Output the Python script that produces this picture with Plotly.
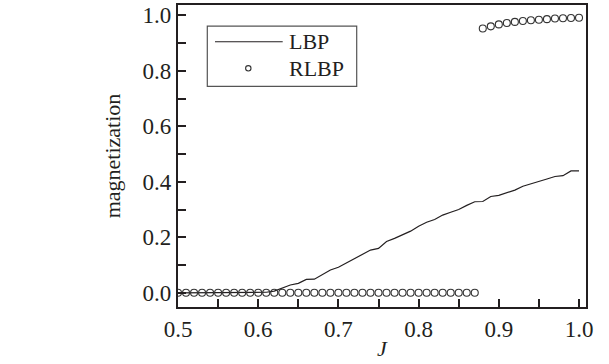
import plotly.graph_objects as go

# LBP curve
J_lbp = [0.50, 0.51, 0.52, 0.53, 0.54, 0.55, 0.56, 0.57, 0.58, 0.59, 0.60,
         0.61, 0.62, 0.63, 0.64, 0.65, 0.66, 0.67, 0.68, 0.69, 0.70,
         0.71, 0.72, 0.73, 0.74, 0.75, 0.76, 0.77, 0.78, 0.79, 0.80,
         0.81, 0.82, 0.83, 0.84, 0.85, 0.86, 0.87, 0.88, 0.89, 0.90,
         0.91, 0.92, 0.93, 0.94, 0.95, 0.96, 0.97, 0.98, 0.99, 1.00]
m_lbp = [0.0, 0.0, 0.0, 0.0, 0.0, 0.0, 0.0, 0.0, 0.0, 0.0, 0.0,
         0.002, 0.006, 0.016, 0.028, 0.034, 0.048, 0.049, 0.067, 0.082, 0.092,
         0.108, 0.122, 0.138, 0.154, 0.160, 0.185, 0.196, 0.210, 0.222, 0.240,
         0.254, 0.264, 0.280, 0.290, 0.300, 0.315, 0.328, 0.329, 0.347, 0.351,
         0.360, 0.370, 0.384, 0.392, 0.400, 0.410, 0.419, 0.422, 0.439, 0.439]

# RLBP points
J_rlbp = [0.50, 0.51, 0.52, 0.53, 0.54, 0.55, 0.56, 0.57, 0.58, 0.59, 0.60,
          0.61, 0.62, 0.63, 0.64, 0.65, 0.66, 0.67, 0.68, 0.69, 0.70,
          0.71, 0.72, 0.73, 0.74, 0.75, 0.76, 0.77, 0.78, 0.79, 0.80,
          0.81, 0.82, 0.83, 0.84, 0.85, 0.86, 0.87,
          0.88, 0.89, 0.90, 0.91, 0.92, 0.93, 0.94, 0.95, 0.96, 0.97,
          0.98, 0.99, 1.00]
m_rlbp = [0.0] * 38 + [0.952, 0.960, 0.967, 0.972, 0.976, 0.979, 0.982,
                       0.984, 0.986, 0.988, 0.989, 0.990, 0.991]

x_ticks = [0.5, 0.6, 0.7, 0.8, 0.9, 1.0]
x_labels = ["0.5", "0.6", "0.7", "0.8", "0.9", "1.0"]
y_ticks = [0.0, 0.2, 0.4, 0.6, 0.8, 1.0]
y_labels = ["0.0", "0.2", "0.4", "0.6", "0.8", "1.0"]

INK = "#231f20"
FONT = "Liberation Serif"

fig = go.Figure()
fig.add_trace(go.Scatter(x=J_lbp, y=m_lbp, mode="lines", name="LBP",
                         line=dict(color=INK, width=1.2), showlegend=False))
fig.add_trace(go.Scatter(x=J_rlbp, y=m_rlbp, mode="markers", name="RLBP",
                         marker=dict(symbol="circle-open", size=7, color="#333333",
                                     line=dict(width=1.1, color="#333333")),
                         showlegend=False))

# custom legend (paper coords / pixels)
L, R, T, B = 178, 23, 3, 57
W, H = 609, 364
pw, ph = W - L - R, H - T - B
def px(x):
    return (x - L) / pw
def py(y):
    return 1 - (y - T) / ph

fig.add_shape(type="rect", xref="paper", yref="paper",
              x0=px(207.3), x1=px(356.7), y0=py(85), y1=py(24.3),
              line=dict(color="#555555", width=1.2), fillcolor="white", layer="above")
fig.add_shape(type="line", xref="paper", yref="paper",
              x0=px(215), x1=px(282.7), y0=py(40), y1=py(40),
              line=dict(color=INK, width=1.2), layer="above")
fig.add_shape(type="circle", xref="paper", yref="paper",
              xsizemode="pixel", ysizemode="pixel",
              xanchor=px(248.3), yanchor=py(66.7),
              x0=-2.7, x1=2.7, y0=-2.7, y1=2.7,
              line=dict(color="#333333", width=1.1), layer="above")
fig.add_annotation(xref="paper", yref="paper", x=px(287), y=py(40),
                   xanchor="left", yanchor="middle", text="LBP", showarrow=False,
                   font=dict(family=FONT, size=22, color=INK))
fig.add_annotation(xref="paper", yref="paper", x=px(287), y=py(66.7),
                   xanchor="left", yanchor="middle", text="RLBP", showarrow=False,
                   font=dict(family=FONT, size=22, color=INK))

fig.update_layout(
    width=W, height=H,
    margin=dict(l=L, r=R, t=T, b=B),
    plot_bgcolor="white", paper_bgcolor="white",
    font=dict(family=FONT, size=23, color=INK),
    xaxis=dict(range=[0.5, 1.0087], tickvals=x_ticks, ticktext=x_labels,
               ticks="inside", ticklen=8, tickwidth=1.5, tickcolor=INK,
               minor=dict(dtick=0.05, tick0=0.5, ticks="inside", ticklen=8,
                          tickwidth=1.5, tickcolor=INK),
               showline=True, linecolor=INK, linewidth=2.2, mirror=True,
               showgrid=False, zeroline=False,
               title=dict(text="<i>J</i>", standoff=0,
                          font=dict(family=FONT, size=22, color=INK))),
    yaxis=dict(range=[-0.0512, 1.0369], tickvals=y_ticks, ticktext=y_labels,
               ticks="inside", ticklen=8, tickwidth=1.5, tickcolor=INK,
               minor=dict(dtick=0.1, tick0=0, ticks="inside", ticklen=8,
                          tickwidth=1.5, tickcolor=INK),
               showline=True, linecolor=INK, linewidth=2.2, mirror=True,
               showgrid=False, zeroline=False,
               title=dict(text="magnetization", standoff=16,
                          font=dict(family=FONT, size=22, color=INK))),
)

fig.write_html("out.html")
